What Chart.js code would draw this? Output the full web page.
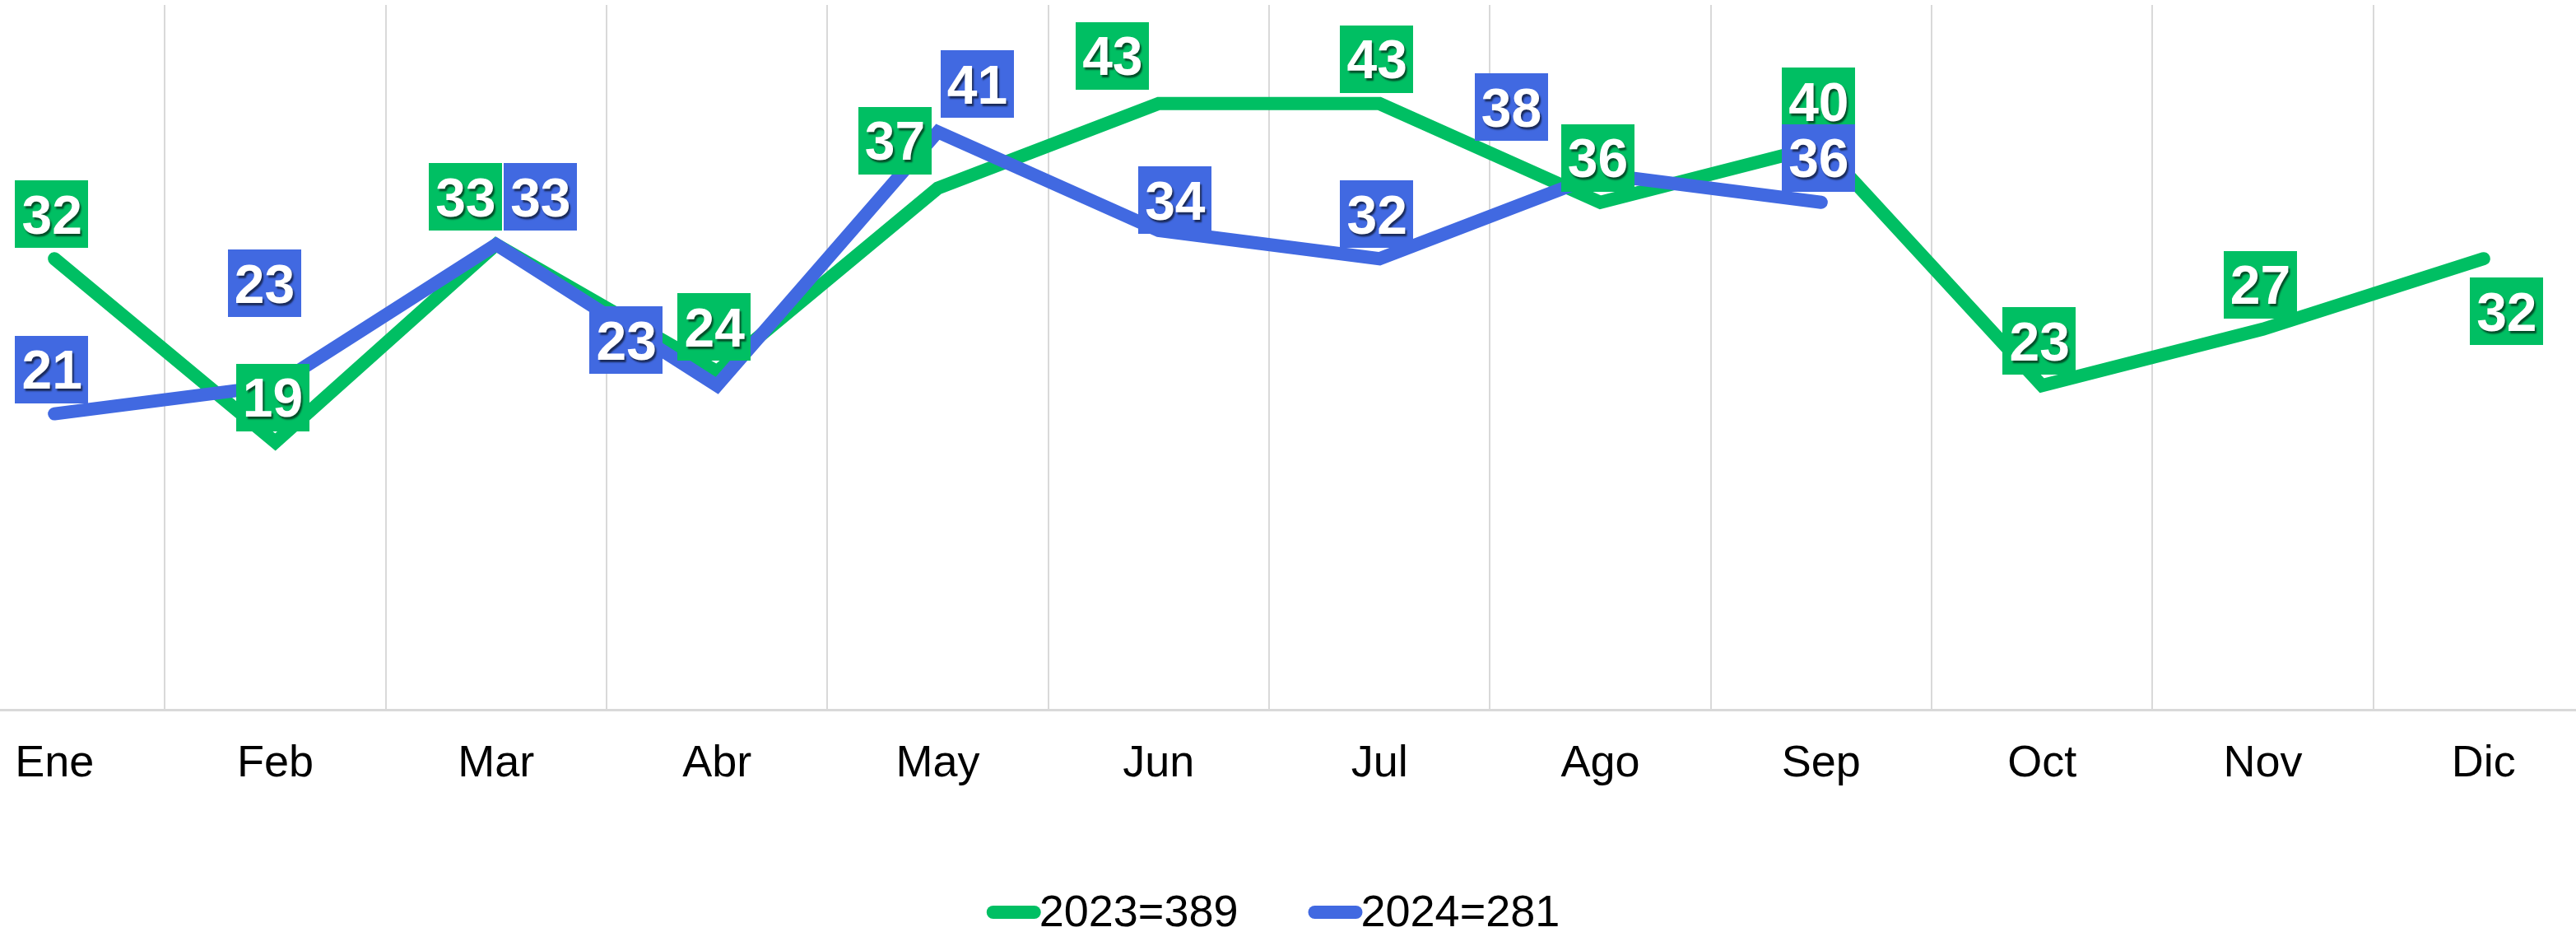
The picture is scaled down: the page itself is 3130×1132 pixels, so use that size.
<!DOCTYPE html>
<html><head><meta charset="utf-8">
<script src="https://cdn.jsdelivr.net/npm/chart.js@4.4.1/dist/chart.umd.min.js"></script>
<style>html,body{margin:0;padding:0;background:#fff;}canvas{display:block;}</style>
</head><body>
<canvas id="c" width="3130" height="1132"></canvas>
<script>
const categories = ['Ene','Feb','Mar','Abr','May','Jun','Jul','Ago','Sep','Oct','Nov','Dic'];
const seriesNames = ['2023','2024'];
const values2023 = [32,19,33,24,37,43,43,36,40,23,27,32];
const values2024 = [21,23,33,23,41,34,32,38,36,null,null,null];
const yMin = 0, yMax = 50;

const FONT = '"Liberation Sans", Arial, Helvetica, sans-serif';
const GREEN = '#00BF63';
const BLUE = '#4169E1';
const sum = a => a.reduce((s, v) => s + (v == null ? 0 : v), 0);

// label box placement relative to its point (pixels), kept apart from the data
const LABEL_STYLE = { size: 66, padX: 8, boxH: 82, defaultNudge: [-3, -54] };
const LABEL_NUDGES = [
  { 2: [-37, -58], 4: [-52, -58], 5: [-56, -58], 11: [28, 64] },
  { 1: [-13, -124], 2: [54, -58], 3: [-110, -55], 4: [48, -58], 5: [20, -37], 7: [-108, -81] }
];
const LEGEND_STYLE = { size: 54, swatchW: 66, swatchH: 16, gap: 83, shift: -17, centerY: 1108, baseline: 1125 };
const X_OVERFLOW = { left: -68, right: 22 };

// widen the category axis so the first/last bands run past the canvas edges
const stretchX = {
  id: 'stretchX',
  afterLayout(chart) {
    const s = chart.scales.x;
    s.left = X_OVERFLOW.left;
    s.right = chart.width + X_OVERFLOW.right;
    s.width = s.right - s.left;
    s.configure();
  }
};

const boxLabels = {
  id: 'boxLabels',
  afterDatasetsDraw(chart) {
    const o = LABEL_STYLE;
    const ctx = chart.ctx;
    ctx.save();
    ctx.font = 'bold ' + o.size + 'px ' + FONT;
    chart.data.datasets.forEach((ds, di) => {
      const meta = chart.getDatasetMeta(di);
      const nudges = LABEL_NUDGES[di] || {};
      meta.data.forEach((pt, i) => {
        const v = ds.data[i];
        if (v == null) return;
        const n = Object.prototype.hasOwnProperty.call(nudges, i) ? nudges[i] : o.defaultNudge;
        const cx = pt.x + n[0], cy = pt.y + n[1];
        const text = String(v);
        const w = ctx.measureText(text).width + o.padX * 2;
        const h = o.boxH;
        ctx.shadowColor = 'transparent';
        ctx.fillStyle = ds.borderColor;
        ctx.fillRect(Math.round(cx - w / 2), Math.round(cy - h / 2), Math.round(w), h);
        ctx.shadowColor = 'rgba(0,0,0,0.6)';
        ctx.shadowOffsetX = 2; ctx.shadowOffsetY = 3; ctx.shadowBlur = 2;
        ctx.fillStyle = '#ffffff';
        ctx.textAlign = 'center';
        ctx.textBaseline = 'alphabetic';
        ctx.fillText(text, cx, cy + o.size * 0.716 / 2);
        ctx.shadowColor = 'transparent';
        ctx.shadowOffsetX = 0; ctx.shadowOffsetY = 0; ctx.shadowBlur = 0;
      });
    });
    ctx.restore();
  }
};

const lineLegend = {
  id: 'lineLegend',
  afterDraw(chart) {
    const o = LEGEND_STYLE;
    const ctx = chart.ctx;
    ctx.save();
    ctx.font = o.size + 'px ' + FONT;
    const items = chart.data.datasets.map(ds => ({
      text: ds.label, color: ds.borderColor, tw: ctx.measureText(ds.label).width
    }));
    const totalW = items.reduce((s, it) => s + o.swatchW + it.tw, 0) + o.gap * (items.length - 1);
    let x = chart.width / 2 - totalW / 2 + o.shift;
    items.forEach(it => {
      ctx.strokeStyle = it.color;
      ctx.lineWidth = o.swatchH;
      ctx.lineCap = 'round';
      ctx.beginPath();
      ctx.moveTo(x + o.swatchH / 2, o.centerY);
      ctx.lineTo(x + o.swatchW - o.swatchH / 2, o.centerY);
      ctx.stroke();
      x += o.swatchW;
      ctx.fillStyle = '#000';
      ctx.textAlign = 'left';
      ctx.textBaseline = 'alphabetic';
      ctx.fillText(it.text, x - 2, o.baseline);
      x += it.tw + o.gap;
    });
    ctx.restore();
  }
};

new Chart(document.getElementById('c'), {
  type: 'line',
  data: {
    labels: categories,
    datasets: [
      {
        label: seriesNames[0] + '=' + sum(values2023),
        data: values2023,
        borderColor: GREEN, backgroundColor: GREEN,
        borderWidth: 16, pointRadius: 0, pointHoverRadius: 0,
        borderCapStyle: 'round', borderJoinStyle: 'miter',
        tension: 0, fill: false, order: 1
      },
      {
        label: seriesNames[1] + '=' + sum(values2024),
        data: values2024,
        borderColor: BLUE, backgroundColor: BLUE,
        borderWidth: 16, pointRadius: 0, pointHoverRadius: 0,
        borderCapStyle: 'round', borderJoinStyle: 'miter',
        tension: 0, fill: false, spanGaps: false, order: 0
      }
    ]
  },
  options: {
    responsive: false,
    animation: false,
    devicePixelRatio: 1,
    layout: { padding: { top: 6, bottom: 137, left: 0, right: 0 } },
    scales: {
      x: {
        offset: true,
        grid: { display: true, offset: true, color: '#d9d9d9', lineWidth: 2, drawTicks: false },
        border: { display: true, color: '#d9d9d9', width: 3 },
        ticks: { color: '#000', padding: 34, font: { family: FONT, size: 54 }, maxRotation: 0, autoSkip: false }
      },
      y: { display: false, min: yMin, max: yMax }
    },
    plugins: {
      legend: { display: false },
      tooltip: { enabled: false }
    }
  },
  plugins: [stretchX, boxLabels, lineLegend]
});
</script>
</body></html>
